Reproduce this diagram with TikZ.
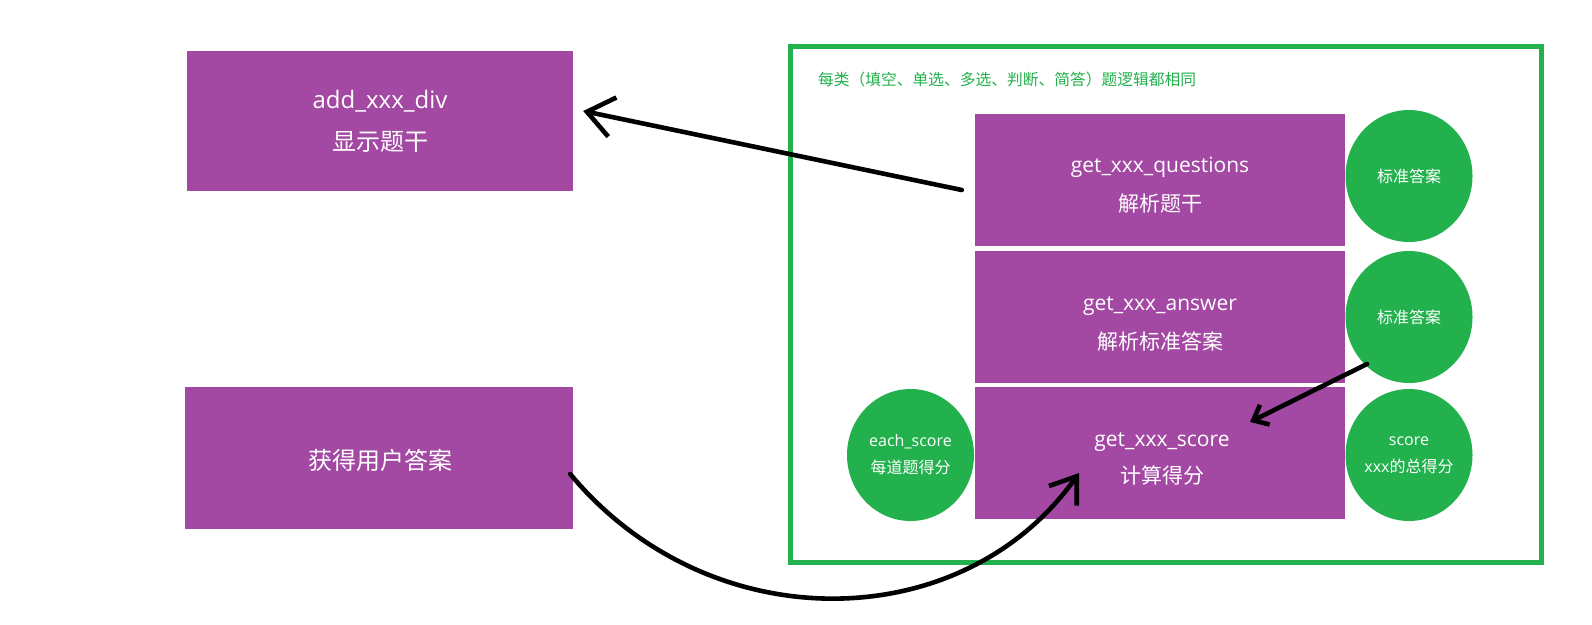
\documentclass[tikz,border=0pt]{standalone}
\usepackage{fontspec}
\setmainfont{Open Sans}
\newfontfamily\cjk{Noto Sans CJK SC}
\usetikzlibrary{arrows.meta,shapes.geometric,calc}
\definecolor{pur}{HTML}{A349A4}
\definecolor{grn}{HTML}{22B14C}
\begin{document}
\begin{tikzpicture}[x=1pt,y=-1pt,
  pbox/.style={rectangle,fill=pur,draw=none,inner sep=0pt},
  ptext/.style={text=white,align=center,inner sep=0pt},
  gcirc/.style={ellipse,fill=grn,draw=none,inner sep=0pt,minimum width=127pt,minimum height=132pt,
    text=white,align=center,font=\fontsize{16}{27}\selectfont},
  arr/.style={line width=4.6pt,line cap=round,line join=round,draw=black}]
\useasboundingbox (0,0) rectangle (1592,624);
\fill[white] (0,0) rectangle (1592,624);
% frame
\node[draw=grn,line width=5pt,inner sep=0pt,minimum width=751.5pt,minimum height=516pt] (frame) at (1165.75,304.5) {};
\node[anchor=west,text=grn,inner sep=0pt,font=\cjk\fontsize{15.75}{18}\selectfont] (title) at (818,80) {每类（填空、单选、多选、判断、简答）题逻辑都相同};
% left boxes
\node[pbox,minimum width=386pt,minimum height=140pt] (add) at (380,121) {};
\node[ptext,font=\fontsize{24}{42}\selectfont] (addt) at (add.center) {add\_xxx\_div\\{\cjk 显示题干}};
\node[pbox,minimum width=388pt,minimum height=142pt] (user) at (379,458) {};
\node[ptext,font=\cjk\fontsize{24}{30}\selectfont] (usert) at ($(user.center)+(1,2)$) {获得用户答案};
% inner boxes
\node[pbox,minimum width=370pt,minimum height=132pt] (q) at (1160,180) {};
\node[pbox,minimum width=370pt,minimum height=132pt] (a) at (1160,317) {};
\node[pbox,minimum width=370pt,minimum height=132pt] (s) at (1160,453) {};
\node[ptext,font=\fontsize{21}{39}\selectfont] (qt) at ($(q.center)+(0,5)$) {get\_xxx\_questions\\{\cjk 解析题干}};
\node[ptext,font=\fontsize{21}{39}\selectfont] (at) at ($(a.center)+(0,7)$) {get\_xxx\_answer\\{\cjk 解析标准答案}};
\node[ptext,font=\fontsize{21}{37}\selectfont] (st) at ($(s.center)+(2,6)$) {get\_xxx\_score\\{\cjk 计算得分}};
% circles
\node[gcirc] (c1) at (1409,176) {\cjk 标准答案};
\node[gcirc] (c2) at (1409,317) {\cjk 标准答案};
\node[gcirc] (c3) at (1409,455) {score\\xxx{\cjk 的总得分}};
\node[gcirc] (c4) at (910.5,455) {each\_score\\{\cjk 每道题得分}};
% arrows
\coordinate (a1s) at ($(q.west)+(-13,10)$);
\coordinate (a1e) at ($(add.east)+(10,-10)$);
\draw[arr,-{Straight Barb[length=26pt,width=40pt]}] (a1s) -- (a1e);
\coordinate (a2s) at ($(c2.center)+(-42,47)$);
\coordinate (a2e) at ($(s.center)+(90,-31)$);
\draw[arr,-{Straight Barb[length=13pt,width=22pt]}] (a2s) -- (a2e);
\coordinate (a3s) at ($(user.east)+(-3,16)$);
\coordinate (a3e) at ($(s.center)+(-81,20)$);
\draw[arr,-{Straight Barb[length=24pt,width=34pt]}] (a3s) .. controls (710,642) and (963,637) .. (a3e);
\end{tikzpicture}
\end{document}
